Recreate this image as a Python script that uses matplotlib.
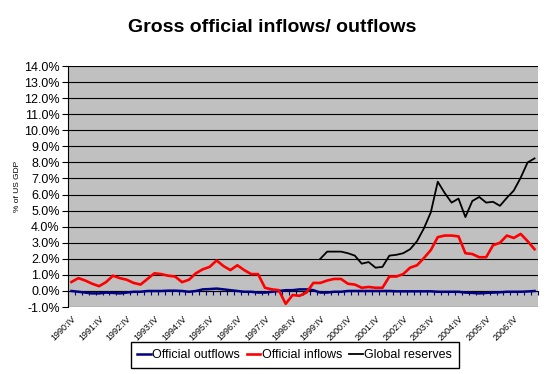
import matplotlib
matplotlib.use('Agg')
import matplotlib.pyplot as plt
import numpy as np

plt.rcParams['font.family'] = ['Liberation Sans', 'DejaVu Sans']

# quarterly series, 1990:IV .. 2007:III, % of US GDP
year_labels = ["1990:IV", "1991:IV", "1992:IV", "1993:IV", "1994:IV", "1995:IV",
               "1996:IV", "1997:IV", "1998:IV", "1999:IV", "2000:IV", "2001:IV",
               "2002:IV", "2003:IV", "2004:IV", "2005:IV", "2006:IV"]

outflows = [0.0, -0.05, -0.1, -0.15, -0.15, -0.1, -0.12, -0.15, -0.1, -0.05,
            -0.05, 0.0, 0.0, 0.0, 0.02, 0.02, 0.0, -0.05, 0.0, 0.1,
            0.12, 0.15, 0.1, 0.05, 0.0, -0.05, -0.05, -0.1, -0.1, -0.05,
            0.0, 0.05, 0.05, 0.1, 0.1, 0.05, -0.1, -0.1, -0.05, -0.05,
            0.0, 0.0, 0.0, 0.0, 0.0, 0.0, 0.0, -0.02, -0.02, -0.02,
            -0.02, -0.02, -0.02, -0.05, -0.05, -0.05, -0.05, -0.1, -0.12, -0.15,
            -0.12, -0.1, -0.08, -0.05, -0.05, -0.05, -0.03, 0.0]

inflows = [0.56, 0.8, 0.65, 0.45, 0.3, 0.55, 0.95, 0.8, 0.7, 0.5,
           0.4, 0.75, 1.1, 1.05, 0.95, 0.9, 0.55, 0.7, 1.1, 1.35,
           1.5, 1.9, 1.55, 1.3, 1.6, 1.3, 1.05, 1.05, 0.2, 0.1,
           0.05, -0.8, -0.25, -0.3, -0.1, 0.5, 0.5, 0.65, 0.75, 0.75,
           0.45, 0.4, 0.2, 0.25, 0.2, 0.2, 0.9, 0.9, 1.05, 1.45,
           1.6, 2.05, 2.55, 3.35, 3.45, 3.45, 3.4, 2.35, 2.3, 2.1,
           2.1, 2.85, 3.0, 3.45, 3.3, 3.55, 3.1, 2.6]

reserves = [np.nan] * 36 + [2.0, 2.45, 2.45, 2.45, 2.35, 2.2, 1.7, 1.8, 1.45, 1.5,
                            2.2, 2.25, 2.35, 2.6, 3.1, 3.9, 4.9, 6.8, 6.1, 5.5,
                            5.75, 4.6, 5.6, 5.85, 5.5, 5.55, 5.3, 5.8, 6.25, 7.05,
                            8.0, 8.25]

x = np.arange(len(inflows))

fig = plt.figure(figsize=(5.47, 3.74), dpi=100)
ax = fig.add_axes([0.1243, 0.179, 0.8592, 0.6445])
ax.set_facecolor('#c0c0c0')

ax.plot(x, outflows, color='#000080', lw=1.8, label='Official outflows')
ax.plot(x, inflows, color='#ff0000', lw=1.9, label='Official inflows')
ax.plot(x, reserves, color='black', lw=1.3, label='Global reserves')

ax.set_xlim(-0.5, len(x) - 0.5)
ax.set_ylim(-1, 14)
ax.set_yticks(np.arange(-1, 15, 1))
ax.set_yticklabels([f'{v:.1f}%' for v in np.arange(-1, 15, 1)], fontsize=9)
ax.yaxis.grid(True, color='black', lw=0.8)
ax.set_axisbelow(True)
ax.tick_params(axis='y', direction='out', length=4, width=0.8, pad=2)

ax.set_xticks(x[::4])
ax.set_xticklabels(year_labels, rotation=45, ha='right', va='top',
                   rotation_mode='anchor', fontsize=6.5)
ax.tick_params(axis='x', length=0, pad=5)

for side in ['top', 'right', 'bottom']:
    ax.spines[side].set_visible(False)
ax.spines['left'].set_linewidth(0.8)

# category axis crossing at 0 with tick marks between categories
sec = ax.secondary_xaxis(1 / 15)
sec.set_xticks(np.arange(-0.5, len(x), 1))
sec.set_xticklabels([])
sec.tick_params(direction='out', length=3, width=0.8, color='#000080')
sec.spines['bottom'].set_color('#000080')
sec.spines['bottom'].set_linewidth(0.8)

ax.set_ylabel('% of US GDP', fontsize=6)
ax.yaxis.set_label_coords(-0.1, 0.5)

fig.text(0.497, 0.926, 'Gross official inflows/ outflows', ha='center', va='center',
         fontsize=14, fontweight='bold')

fig.legend(loc='center', bbox_to_anchor=(0.539, 0.05), ncol=3, fontsize=9,
           frameon=True, fancybox=False, edgecolor='black', framealpha=1,
           handlelength=1.05, handletextpad=0.15, columnspacing=0.55,
           borderpad=0.55)

fig.savefig('out.png', dpi=100)
